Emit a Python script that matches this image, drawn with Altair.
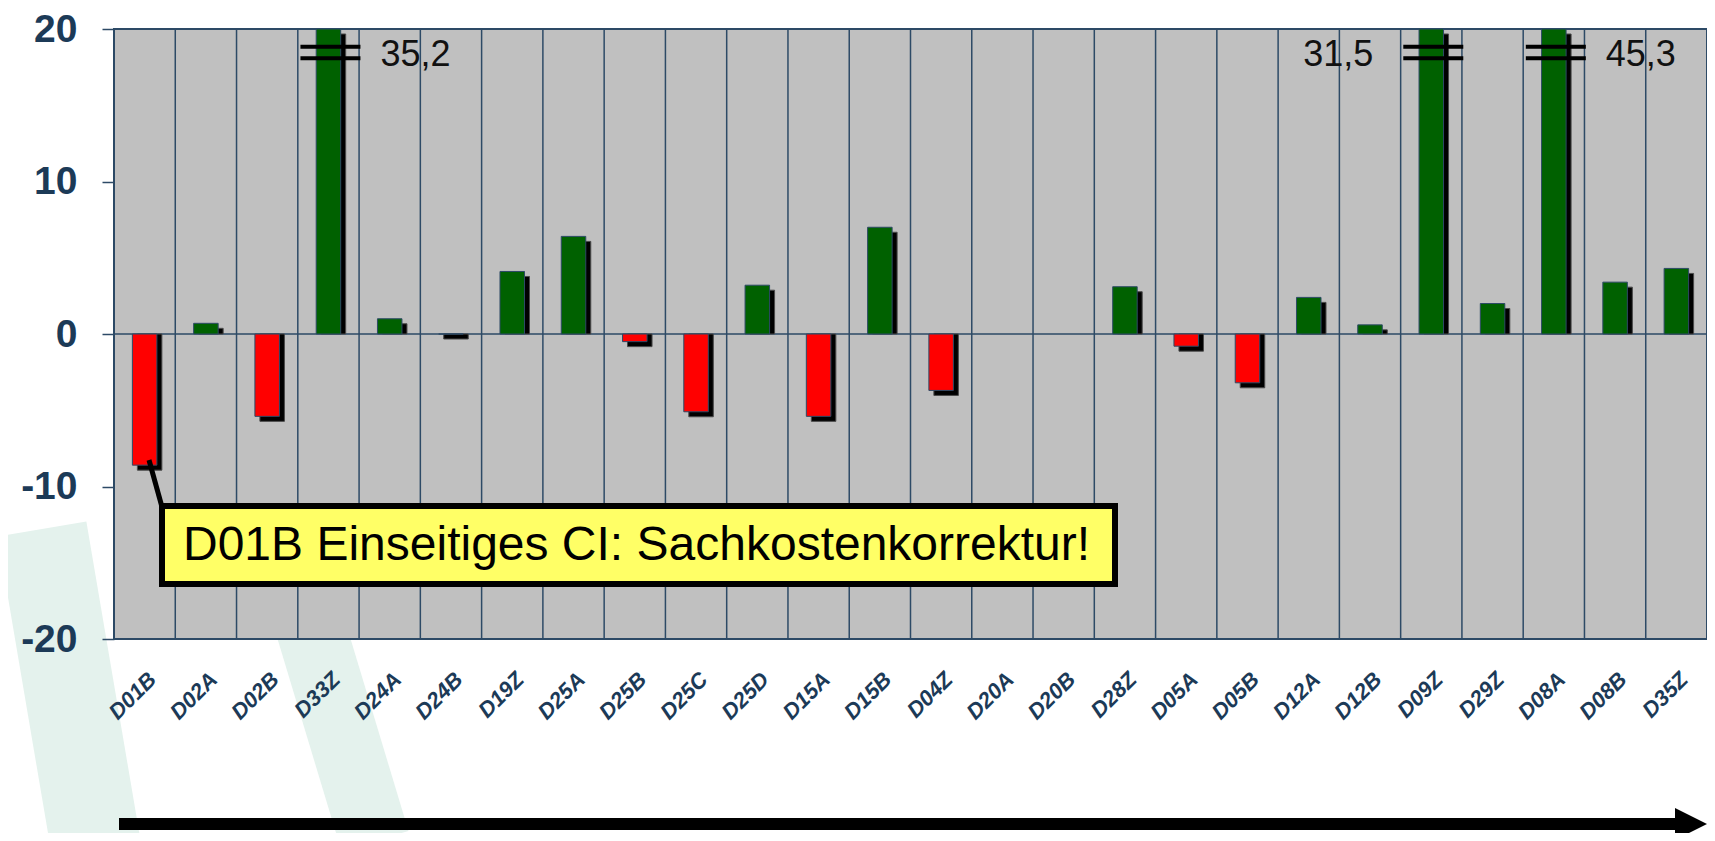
import altair as alt
import pandas as pd

# ---------------- data ----------------
categories = ["D01B", "D02A", "D02B", "D33Z", "D24A", "D24B", "D19Z", "D25A", "D25B",
              "D25C", "D25D", "D15A", "D15B", "D04Z", "D20A", "D20B", "D28Z", "D05A",
              "D05B", "D12A", "D12B", "D09Z", "D29Z", "D08A", "D08B", "D35Z"]
values = [-8.6, 0.7, -5.4, 35.2, 1.0, 0.0, 4.1, 6.4, -0.5,
          -5.1, 3.2, -5.4, 7.0, -3.7, None, None, 3.1, -0.8,
          -3.2, 2.4, 0.6, 31.5, 2.0, 45.3, 3.4, 4.3]
y_ticks = [-20, -10, 0, 10, 20]
label_right = ["D33Z", "D08A"]
label_left = ["D09Z"]
note_text = "D01B Einseitiges CI: Sachkostenkorrektur!"

# ---------------- style ----------------
W, H = 1593, 610
YMIN, YMAX = -20, 20
SLATE = "#2d4a66"
NAVY = "#1c3a57"
FONT = "Liberation Sans"
RED = "#ff0000"
GREEN = "#006100"
MINT = "#e4f2ed"

df = pd.DataFrame({"cat": categories, "value": values})
one = pd.DataFrame({"k": [0]})

base = alt.Chart(df).transform_calculate(
    clipped="isValid(datum.value) ? min(datum.value, %d) : null" % YMAX,
    lbl="replace(format(datum.value, '.1f'), '.', ',')",
)

x_scale = alt.Scale(paddingInner=0, paddingOuter=0)
X = alt.X("cat:N", sort=categories, scale=x_scale, axis=None)
y_axis = alt.Axis(title=None, values=y_ticks, grid=False, domain=False,
                  tickSize=12, tickColor=SLATE, tickWidth=1.5,
                  labelFontSize=39, labelFontWeight="bold", labelColor=NAVY,
                  labelFont=FONT, labelPadding=25, labelExpr="'' + datum.value",
                  zindex=1)
Y = alt.Y("clipped:Q", scale=alt.Scale(domain=[YMIN, YMAX], nice=False), axis=y_axis)

# watermark strips (behind the plot)
wm1 = alt.Chart(one).mark_rule(color=MINT, strokeWidth=90, strokeCap="butt").encode(
    x=alt.value(-72), y=alt.value(500), x2=alt.value(-19), y2=alt.value(812))
wm2 = alt.Chart(one).mark_rule(color=MINT, strokeWidth=70, strokeCap="butt").encode(
    x=alt.value(185), y=alt.value(560), x2=alt.value(261), y2=alt.value(812))

# plot background
bg = alt.Chart(one).mark_rect(fill="#c0c0c0", stroke=SLATE, strokeWidth=2).encode(
    x=alt.value(0), x2=alt.value(W), y=alt.value(0), y2=alt.value(H))

# vertical grid lines at category boundaries
grid = base.mark_rule(color=SLATE, strokeWidth=1.5).encode(
    x=alt.X("cat:N", sort=categories, scale=x_scale, axis=None, bandPosition=0),
    y=alt.value(0), y2=alt.value(H))

# zero line
zero = alt.Chart(one).mark_rule(color=SLATE, strokeWidth=1.5).encode(
    x=alt.value(0), x2=alt.value(W), y=alt.datum(0))

shadow = base.mark_bar(width={"band": 0.4}, color="black", stroke="#4a4a4a",
                       strokeWidth=1, xOffset=5, yOffset=5).encode(
    x=X, y=Y, y2=alt.datum(0))

bars = base.mark_bar(width={"band": 0.4}, stroke=SLATE, strokeWidth=1).encode(
    x=X, y=Y, y2=alt.datum(0),
    color=alt.condition("datum.value < 0", alt.value(RED), alt.value(GREEN)))

big = base.transform_filter("datum.value > %d" % YMAX)
brk1 = big.mark_tick(orient="horizontal", size=60, thickness=4, color="black",
                     xOffset=2, opacity=1).encode(x=X, y=alt.value(17.7))
brk2 = big.mark_tick(orient="horizontal", size=60, thickness=4, color="black",
                     xOffset=2, opacity=1).encode(x=X, y=alt.value(29.3))

txt_r = big.transform_filter(alt.FieldOneOfPredicate(field="cat", oneOf=label_right)).mark_text(
    align="left", baseline="middle", dx=52, fontSize=36, font=FONT, color="#111111").encode(
    x=X, y=alt.value(26), text="lbl:N")
txt_l = big.transform_filter(alt.FieldOneOfPredicate(field="cat", oneOf=label_left)).mark_text(
    align="right", baseline="middle", dx=-58, fontSize=36, font=FONT, color="#111111").encode(
    x=X, y=alt.value(26), text="lbl:N")

# category labels (rotated text layer, drawn above the watermark)
xlabels = alt.Chart(df).mark_text(
    align="right", baseline="middle", fontWeight="bold",
    fontStyle="italic", font=FONT, color=NAVY, xOffset=8).encode(
    x=X, y=alt.value(H + 37), text="cat:N",
    angle=alt.value(315), size=alt.value(22))

# annotation
leader = alt.Chart(one).mark_rule(color="black", strokeWidth=5).encode(
    x=alt.value(35), y=alt.value(431), x2=alt.value(48), y2=alt.value(478))
box = alt.Chart(one).mark_rect(fill="#ffff66", stroke="black", strokeWidth=6).encode(
    x=alt.value(48), x2=alt.value(1001), y=alt.value(477), y2=alt.value(555))
note = alt.Chart(one).mark_text(align="left", baseline="middle", fontSize=48,
                                font=FONT, color="black", text=note_text).encode(
    x=alt.value(69), y=alt.value(517))

# arrow
arrow_line = alt.Chart(one).mark_rule(color="black", strokeWidth=12, strokeCap="butt").encode(
    x=alt.value(5), x2=alt.value(1572), y=alt.value(795))
arrow_head = alt.Chart(one).mark_point(shape="M-1,-1L1,0L-1,1Z", size=1024, filled=True,
                                        color="black", opacity=1).encode(
    x=alt.value(1577), y=alt.value(795))

chart = alt.layer(
    wm1, wm2, bg, grid, zero, shadow, bars, brk1, brk2, txt_r, txt_l, xlabels,
    leader, box, note, arrow_line, arrow_head
).properties(
    width=W, height=H,
    autosize=alt.AutoSizeParams(type="none"),
    padding={"left": 106, "top": 21, "right": 0, "bottom": 194},
    background="white",
).configure_view(
    strokeWidth=0
)

chart.save("out.html", embed_options={"renderer": "svg", "actions": False})
